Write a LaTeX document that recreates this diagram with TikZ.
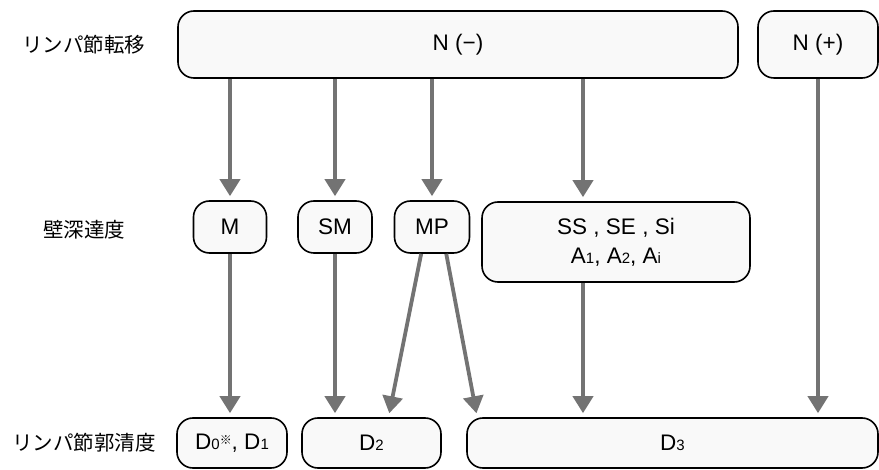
\documentclass[tikz,border=0pt]{standalone}
\usepackage{fontspec}
\setmainfont{Liberation Sans}
\newfontfamily\jpfont{Noto Sans CJK JP}
\usetikzlibrary{arrows.meta}

% small digits sitting on the baseline
\newcommand{\lowidx}[1]{{\fontsize{15}{15}\selectfont #1}}
\newcommand{\komemark}{\raisebox{0.4ex}{\jpfont\fontsize{12}{12}\selectfont ※}}

\tikzset{
  stage/.style={draw, line width=1.6pt, rounded corners=16pt, fill=black!2.5,
    align=center, inner sep=0pt},
  rowlabel/.style={font=\jpfont\fontsize{20.5}{24}\selectfont},
  flow/.style={line width=3.8pt, draw=black!55,
    -{Triangle[width=20pt,length=17pt,fill=black!55]}, shorten >=4pt}
}

\begin{document}
\begin{tikzpicture}[x=1pt, y=-1pt, font=\fontsize{22.5}{29}\selectfont]
  \useasboundingbox (0,0) rectangle (879,470);

  % row labels
  \node[rowlabel] (lbltop) at (84,45) {リンパ節転移};
  \node[rowlabel] (lblmid) at (84,230) {壁深達度};
  \node[rowlabel] (lblbot) at (84,443) {リンパ節郭清度};

  % top row
  \node[stage, minimum width=560pt, minimum height=67pt] (nneg) at (458,44.5) {N (−)};
  \node[stage, minimum width=120pt, minimum height=67pt] (npos) at (818,44.5) {N (+)};

  % middle row
  \node[stage, minimum width=73pt, minimum height=52pt] (m) at (230,227) {M};
  \node[stage, minimum width=74pt, minimum height=52pt] (sm) at (335,227) {SM};
  \node[stage, minimum width=75pt, minimum height=52pt] (mp) at (432,227) {MP};
  \node[stage, minimum width=268pt, minimum height=80pt] (ss) at (616,242)
    {SS , SE , Si\\A\lowidx{1}, A\lowidx{2}, A\lowidx{i}};
  \coordinate (sscol) at (583,242);

  % bottom row
  \node[stage, minimum width=110pt, minimum height=50pt] (d01) at (232,443)
    {D\lowidx{0}\komemark, D\lowidx{1}};
  \node[stage, minimum width=139pt, minimum height=50pt] (d2) at (371.5,443) {D\lowidx{2}};
  \node[stage, minimum width=411pt, minimum height=50pt] (d3) at (672.5,443) {D\lowidx{3}};

  % arrows
  \draw[flow] (nneg.south -| m) -- (m.north);
  \draw[flow] (nneg.south -| sm) -- (sm.north);
  \draw[flow] (nneg.south -| mp) -- (mp.north);
  \draw[flow] (nneg.south -| sscol) -- (sscol |- ss.north);
  \draw[flow] (m.south) -- (m |- d01.north);
  \draw[flow] (sm.south) -- (sm |- d2.north);
  \draw[flow] (mp.-112) -- ([xshift=17pt]d2.north);
  \draw[flow] (mp.-62) -- ([xshift=11pt]d3.north west);
  \draw[flow] (sscol |- ss.south) -- (sscol |- d3.north);
  \draw[flow] (npos.south) -- (npos |- d3.north);
\end{tikzpicture}
\end{document}
